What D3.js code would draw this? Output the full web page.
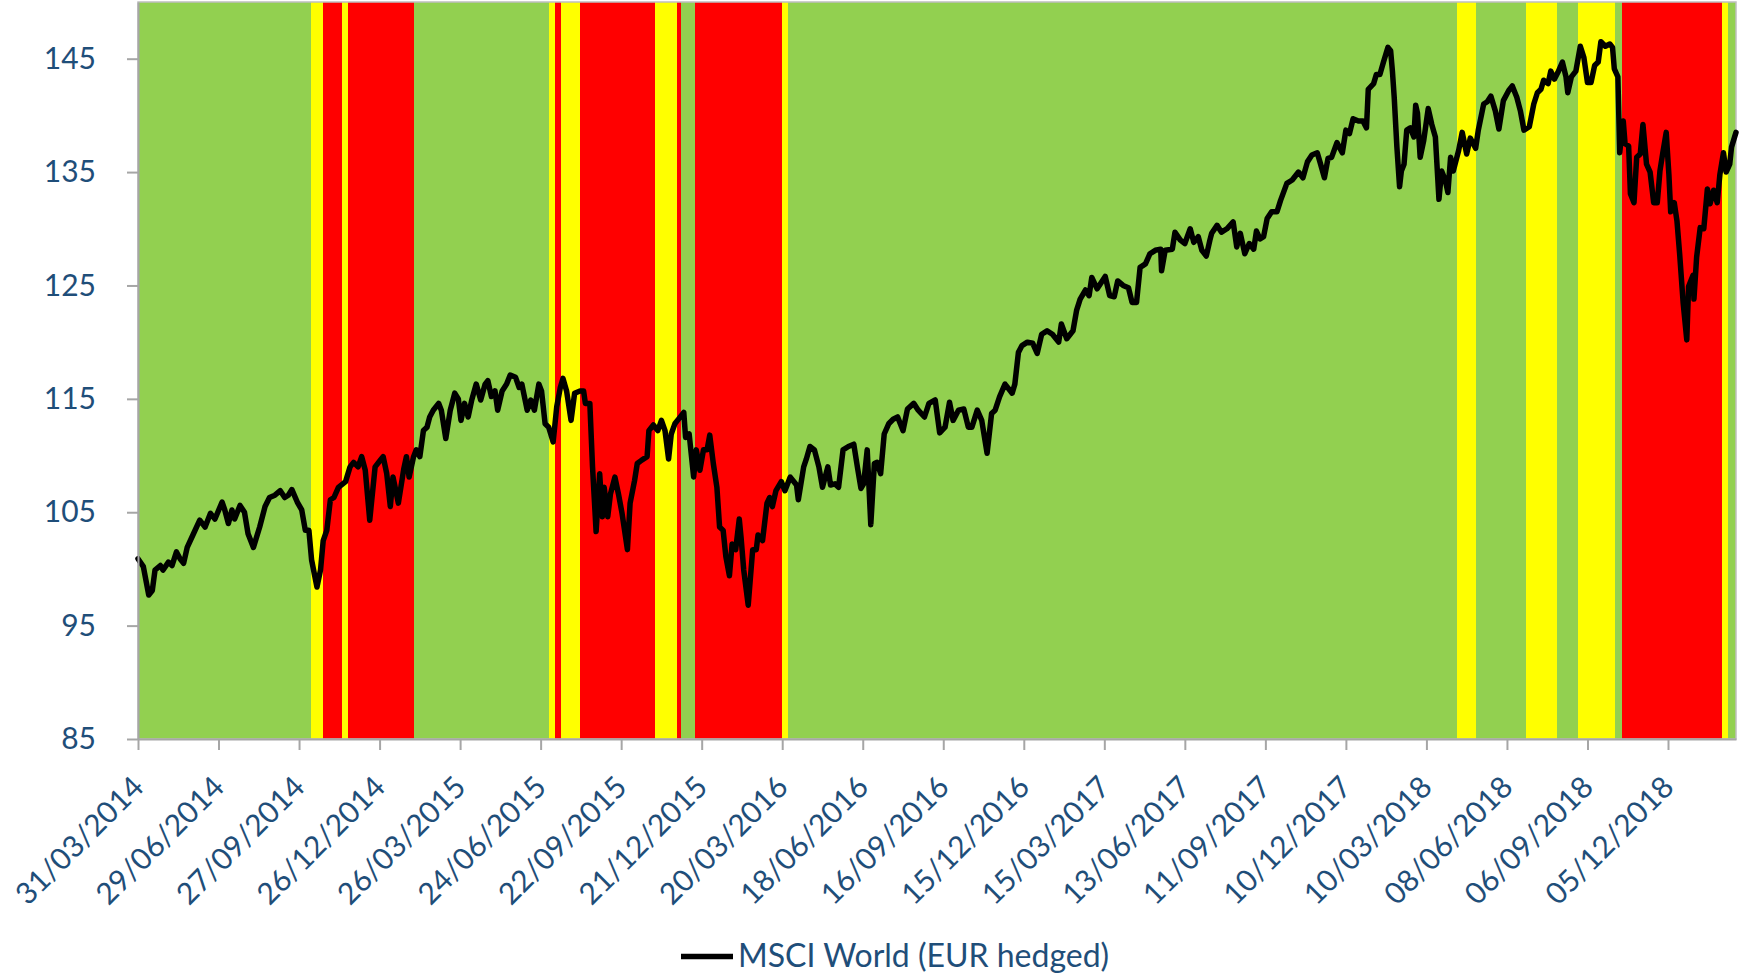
<!DOCTYPE html>
<html>
<head>
<meta charset="utf-8">
<script src="https://cdn.jsdelivr.net/npm/d3@7"></script>
<style>
  html, body { margin: 0; padding: 0; background: #ffffff; }
  svg { display: block; }
  text { font-family: Lato, "Open Sans", sans-serif; }
</style>
</head>
<body>
<svg id="chart" width="1742" height="978"></svg>
<script>
// ---------------- DATA ----------------
const seriesName = "MSCI World (EUR hedged)";

const yTickValues = [85, 95, 105, 115, 125, 135, 145];

const xTickLabels = ["31/03/2014","29/06/2014","27/09/2014","26/12/2014","26/03/2015","24/06/2015",
  "22/09/2015","21/12/2015","20/03/2016","18/06/2016","16/09/2016","15/12/2016","15/03/2017",
  "13/06/2017","11/09/2017","10/12/2017","10/03/2018","08/06/2018","06/09/2018","05/12/2018"];

// regime bands: start date of each band and its regime (G = green, Y = yellow, R = red)
const bandStarts = ["2014-03-31","2014-10-10","2014-10-24","2014-11-14","2014-11-21","2015-02-02",
  "2015-07-03","2015-07-10","2015-07-17","2015-08-07","2015-10-30","2015-11-23","2015-11-28",
  "2015-12-14","2016-03-20","2016-03-26","2018-04-13","2018-05-04","2018-06-29","2018-08-03",
  "2018-08-26","2018-10-07","2018-10-15","2019-02-03","2019-02-10"];
const bandRegimes = ["G","Y","R","Y","R","G","Y","R","Y","R","Y","R","G","R","Y","G","Y","G","Y","G","Y","G","R","Y","G"];
const bandEnd = "2019-02-19";

const dates = [
"2014-03-31","2014-04-06","2014-04-12","2014-04-16","2014-04-19","2014-04-25","2014-04-28","2014-05-04","2014-05-08","2014-05-13",
"2014-05-17","2014-05-21","2014-05-25","2014-06-01","2014-06-08","2014-06-14","2014-06-20","2014-06-25","2014-07-03","2014-07-06",
"2014-07-10","2014-07-14","2014-07-17","2014-07-23","2014-07-28","2014-08-01","2014-08-07","2014-08-14","2014-08-20","2014-08-25",
"2014-08-31","2014-09-06","2014-09-11","2014-09-15","2014-09-19","2014-09-25","2014-09-30","2014-10-04","2014-10-08","2014-10-11",
"2014-10-17","2014-10-21","2014-10-24","2014-10-28","2014-11-01","2014-11-05","2014-11-10","2014-11-18","2014-11-23","2014-11-27",
"2014-12-02","2014-12-06","2014-12-10","2014-12-15","2014-12-21","2014-12-27","2014-12-30","2015-01-03","2015-01-07","2015-01-10",
"2015-01-16","2015-01-22","2015-01-25","2015-01-28","2015-02-02","2015-02-05","2015-02-09","2015-02-13","2015-02-17","2015-02-20",
"2015-02-24","2015-03-02","2015-03-05","2015-03-10","2015-03-15","2015-03-20","2015-03-24","2015-03-27","2015-03-31","2015-04-04",
"2015-04-08","2015-04-13","2015-04-18","2015-04-23","2015-04-26","2015-04-30","2015-05-04","2015-05-07","2015-05-12","2015-05-17",
"2015-05-21","2015-05-27","2015-05-31","2015-06-03","2015-06-09","2015-06-13","2015-06-17","2015-06-22","2015-06-25","2015-06-29",
"2015-07-03","2015-07-08","2015-07-12","2015-07-16","2015-07-19","2015-07-23","2015-07-28","2015-08-01","2015-08-07","2015-08-11",
"2015-08-13","2015-08-18","2015-08-21","2015-08-25","2015-08-29","2015-09-01","2015-09-03","2015-09-07","2015-09-10","2015-09-15",
"2015-09-19","2015-09-23","2015-09-29","2015-10-02","2015-10-07","2015-10-10","2015-10-15","2015-10-21","2015-10-23","2015-10-28",
"2015-11-02","2015-11-06","2015-11-10","2015-11-14","2015-11-17","2015-11-21","2015-11-26","2015-12-01","2015-12-03","2015-12-07",
"2015-12-12","2015-12-15","2015-12-19","2015-12-23","2015-12-27","2015-12-30","2016-01-03","2016-01-07","2016-01-10","2016-01-14",
"2016-01-17","2016-01-21","2016-01-24","2016-01-28","2016-02-01","2016-02-03","2016-02-06","2016-02-11","2016-02-16","2016-02-20",
"2016-02-22","2016-02-27","2016-03-03","2016-03-06","2016-03-09","2016-03-13","2016-03-19","2016-03-23","2016-03-29","2016-04-05",
"2016-04-07","2016-04-13","2016-04-16","2016-04-20","2016-04-25","2016-04-30","2016-05-04","2016-05-10","2016-05-13","2016-05-18",
"2016-05-22","2016-05-27","2016-06-02","2016-06-08","2016-06-12","2016-06-16","2016-06-19","2016-06-23","2016-06-27","2016-07-01",
"2016-07-04","2016-07-08","2016-07-12","2016-07-17","2016-07-22","2016-07-27","2016-08-02","2016-08-07","2016-08-14","2016-08-19",
"2016-08-26","2016-08-31","2016-09-07","2016-09-12","2016-09-18","2016-09-23","2016-09-27","2016-10-03","2016-10-09","2016-10-14",
"2016-10-18","2016-10-24","2016-10-29","2016-11-04","2016-11-09","2016-11-13","2016-11-18","2016-11-24","2016-12-02","2016-12-05",
"2016-12-09","2016-12-13","2016-12-19","2016-12-25","2016-12-30","2017-01-04","2017-01-10","2017-01-16","2017-01-23","2017-01-26",
"2017-02-01","2017-02-08","2017-02-12","2017-02-16","2017-02-22","2017-02-26","2017-03-01","2017-03-07","2017-03-16","2017-03-21",
"2017-03-26","2017-03-30","2017-04-05","2017-04-11","2017-04-15","2017-04-20","2017-04-24","2017-04-30","2017-05-05","2017-05-11",
"2017-05-17","2017-05-18","2017-05-22","2017-05-30","2017-06-02","2017-06-08","2017-06-13","2017-06-19","2017-06-23","2017-06-28",
"2017-07-02","2017-07-07","2017-07-11","2017-07-13","2017-07-19","2017-07-24","2017-07-30","2017-08-06","2017-08-10","2017-08-14",
"2017-08-19","2017-08-24","2017-08-29","2017-09-01","2017-09-05","2017-09-09","2017-09-13","2017-09-18","2017-09-24","2017-09-28",
"2017-10-05","2017-10-11","2017-10-18","2017-10-23","2017-10-28","2017-11-02","2017-11-08","2017-11-11","2017-11-16","2017-11-20",
"2017-11-24","2017-11-30","2017-12-06","2017-12-10","2017-12-14","2017-12-18","2017-12-24","2017-12-29","2018-01-02","2018-01-04",
"2018-01-10","2018-01-13","2018-01-17","2018-01-21","2018-01-26","2018-01-29","2018-01-31","2018-02-02","2018-02-05","2018-02-08",
"2018-02-10","2018-02-13","2018-02-16","2018-02-20","2018-02-24","2018-02-26","2018-02-28","2018-03-03","2018-03-07","2018-03-12",
"2018-03-16","2018-03-20","2018-03-24","2018-03-27","2018-03-31","2018-04-03","2018-04-06","2018-04-09","2018-04-15","2018-04-19",
"2018-04-24","2018-04-28","2018-05-04","2018-05-07","2018-05-13","2018-05-17","2018-05-21","2018-05-26","2018-05-30","2018-06-04",
"2018-06-10","2018-06-14","2018-06-19","2018-06-23","2018-06-27","2018-07-03","2018-07-08","2018-07-12","2018-07-16","2018-07-19",
"2018-07-24","2018-07-27","2018-07-31","2018-08-04","2018-08-09","2018-08-13","2018-08-15","2018-08-19","2018-08-24","2018-08-29",
"2018-09-02","2018-09-06","2018-09-10","2018-09-14","2018-09-18","2018-09-21","2018-09-26","2018-10-01","2018-10-04","2018-10-06",
"2018-10-10","2018-10-12","2018-10-16","2018-10-18","2018-10-22","2018-10-24","2018-10-28","2018-10-31","2018-11-04","2018-11-07",
"2018-11-11","2018-11-15","2018-11-19","2018-11-23","2018-11-26","2018-11-29","2018-12-03","2018-12-06","2018-12-08","2018-12-12",
"2018-12-15","2018-12-18","2018-12-22","2018-12-26","2018-12-28","2019-01-02","2019-01-03","2019-01-06","2019-01-10","2019-01-14",
"2019-01-18","2019-01-21","2019-01-25","2019-01-29","2019-02-01","2019-02-05","2019-02-08","2019-02-12","2019-02-14","2019-02-19"];

const values = [
100.9,100.2,97.7,98.1,99.9,100.3,99.9,100.6,100.3,101.5,
100.9,100.5,101.9,103.1,104.3,103.7,104.9,104.4,105.9,105.2,
104.0,105.2,104.4,105.6,105.0,103.1,101.9,103.7,105.5,106.3,
106.5,106.9,106.3,106.5,107.0,105.9,105.2,103.4,103.4,100.8,
98.4,99.9,102.5,103.4,106.1,106.3,107.2,107.7,109.0,109.4,
109.0,109.9,108.7,104.3,109.0,109.6,109.9,108.4,105.5,108.1,
105.8,108.8,109.9,108.1,109.9,110.5,109.9,112.2,112.5,113.4,
114.0,114.6,114.0,111.5,114.0,115.5,115.0,113.1,114.6,113.4,
114.9,116.3,114.9,116.3,116.6,115.2,115.7,114.0,115.7,116.3,
117.1,116.9,116.0,116.3,114.0,114.9,114.0,116.3,115.7,112.8,
112.5,111.2,114.3,116.0,116.8,115.7,113.1,115.5,115.7,115.7,
114.6,114.6,109.0,103.3,108.4,104.6,107.2,104.6,106.6,108.1,
106.6,104.9,101.7,105.8,107.8,109.3,109.6,109.9,112.2,112.7,
112.2,113.1,112.2,109.7,111.9,112.8,113.3,113.8,111.6,111.9,
108.1,110.5,108.7,110.5,110.5,111.8,109.3,107.2,103.7,103.4,
101.1,99.4,102.2,101.7,104.4,102.8,99.9,96.8,101.7,101.7,
103.0,102.5,105.8,106.3,105.5,106.9,107.7,106.9,108.1,107.4,
106.1,109.0,109.7,110.8,110.5,109.0,107.2,109.0,107.4,107.5,
107.2,110.5,110.8,111.0,109.0,107.1,107.5,110.5,103.9,109.3,
109.4,108.4,111.9,112.8,113.2,113.4,112.2,114.1,114.6,114.0,
113.4,114.6,114.9,112.0,112.5,114.7,113.1,114.0,114.1,112.5,
112.5,114.0,113.1,110.2,113.7,114.0,115.2,116.3,115.5,116.3,
119.1,119.7,120.0,119.9,119.0,120.7,121.0,120.7,120.0,121.6,
120.3,121.0,122.8,123.8,124.6,124.1,125.7,124.7,125.8,124.1,
124.0,125.4,125.0,124.8,123.5,123.5,126.6,126.9,127.8,128.1,
128.2,126.3,128.1,128.2,129.7,129.0,128.7,130.0,128.8,129.3,
128.1,127.6,129.0,129.6,130.3,129.7,130.0,130.6,128.4,129.6,
127.8,128.7,128.2,129.8,129.1,129.3,130.9,131.5,131.5,132.5,
134.0,134.3,135.0,134.5,135.9,136.5,136.7,135.9,134.5,136.2,
136.3,137.6,136.7,138.7,138.4,139.7,139.5,139.5,138.9,142.3,
142.8,143.6,143.6,144.7,146.0,145.7,143.9,141.6,137.2,133.7,
135.1,135.7,138.7,138.9,138.1,140.9,140.2,136.3,137.8,140.6,
139.2,138.1,132.6,135.1,134.3,133.2,136.3,135.1,136.9,138.5,
136.6,138.0,137.1,138.7,141.0,141.2,141.7,140.4,138.8,141.3,
142.2,142.6,141.6,140.4,138.7,139.0,141.0,142.0,142.3,143.1,
142.8,143.9,143.2,143.8,144.7,143.4,142.0,143.4,143.9,146.1,
145.1,142.9,142.9,144.4,144.7,146.5,146.1,146.3,146.0,144.1,
143.4,136.7,139.5,137.5,137.3,133.1,132.3,136.3,136.6,139.2,
135.7,135.0,132.3,132.3,135.1,136.6,138.5,134.8,131.5,132.3,
130.7,127.8,123.4,120.2,124.9,125.9,123.8,127.5,130.1,130.0,
133.5,132.2,133.4,132.3,134.8,136.7,135.0,135.7,137.2,138.5];

// ---------------- CHART ----------------
const W = 1742, H = 978;
const plot = { left: 138, right: 1736, top: 2, bottom: 739 };
const textColor = "#1F4E79";
const axisColor = "#A6A6A6";
const regimeColors = { G: "#92D050", Y: "#FFFF00", R: "#FF0000" };

const parseISO = d3.utcParse("%Y-%m-%d");
const parseTick = d3.utcParse("%d/%m/%Y");
const fmtTick = d3.utcFormat("%d/%m/%Y");

const data = dates.map((d, i) => ({ date: parseISO(d), value: values[i] }));

const x = d3.scaleUtc()
  .domain([parseISO(dates[0]), parseISO(dates[dates.length - 1])])
  .range([plot.left, plot.right]);
const y = d3.scaleLinear().domain([85, 150]).range([plot.bottom, plot.top]);

const svg = d3.select("#chart");

// bands
const bands = bandStarts.map((s, i) => ({
  start: parseISO(s),
  end: parseISO(i + 1 < bandStarts.length ? bandStarts[i + 1] : bandEnd),
  regime: bandRegimes[i]
}));
svg.append("g").selectAll("rect").data(bands).join("rect")
  .attr("x", d => x(d.start))
  .attr("y", plot.top)
  .attr("width", d => Math.max(0, x(d.end) - x(d.start)))
  .attr("height", plot.bottom - plot.top)
  .attr("fill", d => regimeColors[d.regime])
  .attr("shape-rendering", "crispEdges");

// plot border
svg.append("rect")
  .attr("x", plot.left).attr("y", plot.top)
  .attr("width", plot.right - plot.left).attr("height", plot.bottom - plot.top)
  .attr("fill", "none").attr("stroke", "#BFBFBF").attr("stroke-width", 1.5);

// line
const line = d3.line().x(d => x(d.date)).y(d => y(d.value)).curve(d3.curveLinear);
svg.append("path").datum(data)
  .attr("d", line)
  .attr("fill", "none")
  .attr("stroke", "#000000")
  .attr("stroke-width", 5.5)
  .attr("stroke-linejoin", "round")
  .attr("stroke-linecap", "round");

// y axis
const yAxis = svg.append("g")
  .attr("transform", `translate(${plot.left},0)`)
  .call(d3.axisLeft(y).tickValues(yTickValues).tickSize(11).tickSizeOuter(0).tickPadding(31).tickFormat(d3.format("d")));
yAxis.select(".domain").attr("stroke", axisColor).attr("stroke-width", 2);
yAxis.selectAll(".tick line").attr("stroke", axisColor).attr("stroke-width", 2);
yAxis.selectAll(".tick text")
  .attr("fill", textColor)
  .style("font-size", "30px")
  .style("font-family", "Lato, 'Open Sans', sans-serif");

// x axis
const xTickDates = xTickLabels.map(parseTick);
const xAxis = svg.append("g")
  .attr("transform", `translate(0,${plot.bottom})`)
  .call(d3.axisBottom(x).tickValues(xTickDates).tickSize(11).tickSizeOuter(0).tickFormat(fmtTick));
xAxis.select(".domain").attr("stroke", axisColor).attr("stroke-width", 2);
xAxis.selectAll(".tick line").attr("stroke", axisColor).attr("stroke-width", 2);
xAxis.selectAll(".tick text")
  .attr("fill", textColor)
  .style("font-size", "30px")
  .style("font-family", "Lato, 'Open Sans', sans-serif")
  .attr("text-anchor", "end")
  .attr("x", 7).attr("y", 50).attr("dy", 0)
  .attr("transform", "rotate(-45, 7, 50)");

// legend
const legend = svg.append("g");
legend.append("line")
  .attr("x1", 681).attr("x2", 733).attr("y1", 956.5).attr("y2", 956.5)
  .attr("stroke", "#000").attr("stroke-width", 5.5);
legend.append("text")
  .attr("x", 738).attr("y", 967)
  .attr("fill", textColor)
  .style("font-size", "32px")
  .text(seriesName);
</script>
</body>
</html>
